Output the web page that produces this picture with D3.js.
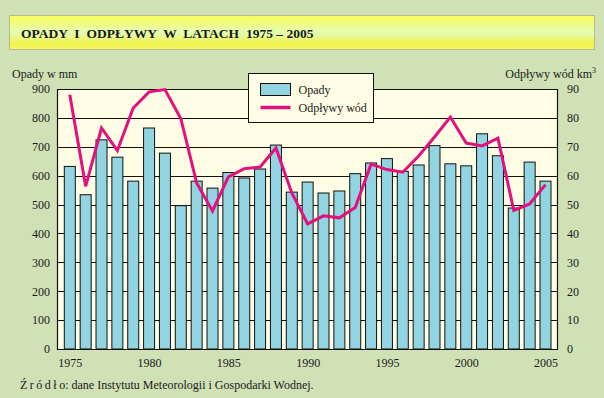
<!DOCTYPE html>
<html>
<head>
<meta charset="utf-8">
<script src="https://cdn.jsdelivr.net/npm/d3@7"></script>
<style>
  html, body { margin: 0; padding: 0; background: #d0e1b6; }
  svg { display: block; font-family: "Liberation Serif", "DejaVu Serif", serif; }
</style>
</head>
<body>
<div id="chart"></div>
<script>
/* ── Data ─────────────────────────────────────────────────────── */

const years = d3.range(1975, 2006);
const opady = [632, 534, 724, 664, 581, 765, 678, 496, 581, 557,
               611, 592, 623, 706, 543, 578, 540, 547, 607, 644,
               659, 615, 637, 704, 641, 634, 745, 669, 488, 647, 581];
const odplywy = [88.0, 56.3, 76.5, 68.7, 83.4, 89.0, 89.8, 79.8, 57.5, 47.8,
                 59.6, 62.4, 63.0, 69.6, 54.0, 43.3, 46.1, 45.4, 49.0, 64.0,
                 62.1, 61.2, 66.8, 73.4, 80.3, 71.3, 70.3, 73.0, 48.0, 50.2, 56.9];
const leftTicks = d3.range(0, 901, 100);
const rightTicks = d3.range(0, 91, 10);
const yearTicks = [1975, 1980, 1985, 1990, 1995, 2000, 2005];

/* ── Layout ───────────────────────────────────────────────────── */

const W = 604, H = 398;
const plot = { left: 57, right: 557, top: 89, bottom: 349 };

const svg = d3.select('#chart').append('svg')
  .attr('width', W).attr('height', H);

svg.append('rect').attr('width', W).attr('height', H).attr('fill', '#d0e1b6');

// Title banner with yellow gradient
const defs = svg.append('defs');
const grad = defs.append('linearGradient').attr('id', 'banner')
  .attr('x1', 0).attr('y1', 0).attr('x2', 0).attr('y2', 1);
grad.append('stop').attr('offset', '0%').attr('stop-color', '#fbfb5a');
grad.append('stop').attr('offset', '50%').attr('stop-color', '#e4fdb4');
grad.append('stop').attr('offset', '85%').attr('stop-color', '#f2f246');
grad.append('stop').attr('offset', '100%').attr('stop-color', '#f6f67a');

svg.append('rect')
  .attr('x', 9.5).attr('y', 15.5).attr('width', 585).attr('height', 34)
  .attr('fill', 'url(#banner)')
  .attr('stroke', '#b9b98a').attr('stroke-width', 1);

const title = svg.append('text')
  .attr('x', 21).attr('y', 38)
  .attr('font-size', 13.5).attr('font-weight', 'bold')
  .attr('fill', '#1a1a1a');
title.append('tspan').attr('word-spacing', 3.5).text('OPADY I ODPŁYWY W LATACH ');
title.append('tspan').text('1975 – 2005');

/* ── Scales ───────────────────────────────────────────────────── */

const x = d3.scaleLinear().domain([1975, 2005]).range([69.8, 545.5]);
const yL = d3.scaleLinear().domain([0, 900]).range([plot.bottom, plot.top]);
const yR = d3.scaleLinear().domain([0, 90]).range([plot.bottom, plot.top]);
const barW = 11;

/* ── Plot area ────────────────────────────────────────────────── */

svg.append('rect')
  .attr('x', plot.left).attr('y', plot.top)
  .attr('width', plot.right - plot.left).attr('height', plot.bottom - plot.top)
  .attr('fill', '#fffde3');

// Gridlines
svg.append('g')
  .selectAll('line')
  .data(leftTicks)
  .join('line')
  .attr('x1', plot.left).attr('x2', plot.right)
  .attr('y1', d => Math.round(yL(d)) + 0.5).attr('y2', d => Math.round(yL(d)) + 0.5)
  .attr('stroke', '#111').attr('stroke-width', 1.2);

// Bars
svg.append('g')
  .selectAll('rect')
  .data(years)
  .join('rect')
  .attr('x', (d) => x(d) - barW / 2)
  .attr('y', (d, i) => yL(opady[i]))
  .attr('width', barW)
  .attr('height', (d, i) => plot.bottom - yL(opady[i]))
  .attr('fill', '#93d4e2')
  .attr('stroke', '#111').attr('stroke-width', 1);

// Axis frame lines
svg.append('line')
  .attr('x1', plot.left + 0.5).attr('x2', plot.left + 0.5)
  .attr('y1', plot.top).attr('y2', plot.bottom + 1)
  .attr('stroke', '#111').attr('stroke-width', 1.2);
svg.append('line')
  .attr('x1', plot.right + 0.5).attr('x2', plot.right + 0.5)
  .attr('y1', plot.top).attr('y2', plot.bottom + 1)
  .attr('stroke', '#111').attr('stroke-width', 1.2);

// Line series
const line = d3.line()
  .x((d, i) => x(years[i]))
  .y(d => yR(d));

svg.append('path')
  .datum(odplywy)
  .attr('d', line)
  .attr('fill', 'none')
  .attr('stroke', '#e3117e')
  .attr('stroke-width', 3)
  .attr('stroke-linejoin', 'miter');

/* ── Axes ─────────────────────────────────────────────────────── */

const leftAxis = svg.append('g')
  .attr('transform', `translate(${plot.left},0)`)
  .call(d3.axisLeft(yL).tickValues(leftTicks).tickSize(0).tickPadding(7));
const rightAxis = svg.append('g')
  .attr('transform', `translate(${plot.right},0)`)
  .call(d3.axisRight(yR).tickValues(rightTicks).tickSize(0).tickPadding(10));
const bottomAxis = svg.append('g')
  .attr('transform', `translate(0,${plot.bottom})`)
  .call(d3.axisBottom(x).tickValues(yearTicks).tickFormat(d3.format('d')).tickSize(0).tickPadding(9));

for (const ax of [leftAxis, rightAxis, bottomAxis]) {
  ax.select('.domain').remove();
  ax.selectAll('text')
    .attr('font-family', '"Liberation Serif", serif')
    .attr('font-size', 12)
    .attr('fill', '#1a1a1a');
}

// Axis titles
svg.append('text')
  .attr('x', 12).attr('y', 78)
  .attr('font-size', 12).attr('fill', '#1a1a1a')
  .text('Opady w mm');

const rt = svg.append('text')
  .attr('x', 596).attr('y', 78)
  .attr('text-anchor', 'end')
  .attr('font-size', 12).attr('fill', '#1a1a1a')
  .text('Odpływy wód km');
rt.append('tspan').attr('dy', -5).attr('font-size', 8).text('3');

/* ── Legend ───────────────────────────────────────────────────── */

const legend = svg.append('g').attr('transform', 'translate(248.5,73.5)');
legend.append('rect')
  .attr('width', 125).attr('height', 49)
  .attr('fill', '#fffde3').attr('stroke', '#111').attr('stroke-width', 1);
legend.append('rect')
  .attr('x', 12).attr('y', 10).attr('width', 30).attr('height', 12)
  .attr('fill', '#93d4e2').attr('stroke', '#111').attr('stroke-width', 1);
legend.append('line')
  .attr('x1', 12).attr('x2', 42).attr('y1', 34).attr('y2', 34)
  .attr('stroke', '#e3117e').attr('stroke-width', 3.5);
legend.append('text')
  .attr('x', 50).attr('y', 20)
  .attr('font-size', 12).attr('fill', '#1a1a1a')
  .text('Opady');
legend.append('text')
  .attr('x', 50).attr('y', 38)
  .attr('font-size', 12).attr('fill', '#1a1a1a')
  .text('Odpływy wód');

/* ── Source ───────────────────────────────────────────────────── */

const src = svg.append('text')
  .attr('x', 20).attr('y', 389)
  .attr('font-size', 12).attr('fill', '#1a1a1a');
src.append('tspan').attr('letter-spacing', 2.5).text('Źródł');
src.append('tspan').text('o: dane Instytutu Meteorologii i Gospodarki Wodnej.');
</script>
</body>
</html>
